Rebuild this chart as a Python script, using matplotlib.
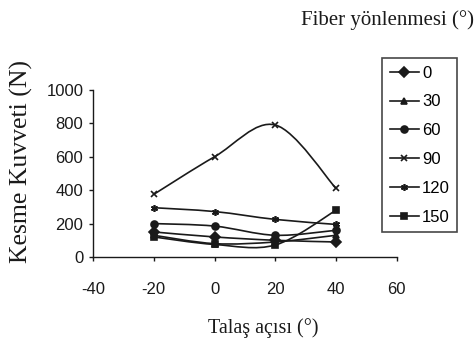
import numpy as np
import matplotlib
matplotlib.use('Agg')
import matplotlib.pyplot as plt
from matplotlib.path import Path
from matplotlib.patches import PathPatch

plt.rcParams['axes.unicode_minus'] = False

# cutting angle (x) and cutting force per fibre orientation
angles = [-20, 0, 20, 40]
f_0 = [150, 120, 100, 90]
f_30 = [130, 80, 90, 130]
f_60 = [200, 185, 130, 160]
f_90 = [375, 600, 790, 410]
f_120 = [295, 272, 225, 195]
f_150 = [120, 75, 72, 280]

series = [('0', f_0, 'D'), ('30', f_30, '^'), ('60', f_60, 'o'),
          ('90', f_90, 'x'), ('120', f_120, (6, 2, 0)), ('150', f_150, 's')]

ink = '#1a1a1a'
sans = 'Liberation Sans'
serif = 'Liberation Serif'


def smooth_path(x, y, k=1 / 6):
    """Excel-style smoothed line as cubic bezier through the points"""
    x = np.asarray(x, float)
    y = np.asarray(y, float)
    px = np.concatenate([[x[0]], x, [x[-1]]])
    py = np.concatenate([[y[0]], y, [y[-1]]])
    verts = [(x[0], y[0])]
    codes = [Path.MOVETO]
    for i in range(1, len(x)):
        c1 = (px[i] + (px[i + 1] - px[i - 1]) * k, py[i] + (py[i + 1] - py[i - 1]) * k)
        c2 = (px[i + 1] - (px[i + 2] - px[i]) * k, py[i + 1] - (py[i + 2] - py[i]) * k)
        verts += [c1, c2, (x[i], y[i])]
        codes += [Path.CURVE4] * 3
    return Path(verts, codes)


fig = plt.figure(figsize=(4.77, 3.54), dpi=100)
ax = fig.add_axes([0.195, 0.274, 0.637, 0.472])

for name, vals, mk in series:
    ax.add_patch(PathPatch(smooth_path(angles, vals), fill=False, edgecolor=ink, lw=1.2))
    ax.plot(angles, vals, linestyle='none', marker=mk, color=ink, markersize=5,
            markeredgewidth=1.2)
    # legend proxy
    ax.plot([], [], color=ink, lw=1.2, marker=mk, markersize=5, markeredgewidth=1.2,
            label=name)

ax.set_xlim(-40, 60)
ax.set_ylim(0, 1000)
ax.set_xticks([-40, -20, 0, 20, 40, 60])
ax.set_yticks([0, 200, 400, 600, 800, 1000])
for s in ['top', 'right']:
    ax.spines[s].set_visible(False)
for s in ['left', 'bottom']:
    ax.spines[s].set_color(ink)
    ax.spines[s].set_linewidth(1.0)
ax.tick_params(direction='out', length=3, width=1, colors=ink, labelsize=12)
ax.tick_params(axis='x', pad=15)
ax.tick_params(axis='y', pad=4)
for lbl in ax.get_xticklabels() + ax.get_yticklabels():
    lbl.set_family(sans)

ax.set_xlabel('Talaş açısı (°)', family=serif, fontsize=14.5, color=ink, va='center')
ax.xaxis.set_label_coords(0.56, -0.425)
ax.set_ylabel('Kesme Kuvveti (N)', family=serif, fontsize=18.5, color=ink, va='center')
ax.yaxis.set_label_coords(-0.234, 0.569)

leg = fig.legend(loc='upper left', bbox_to_anchor=(0.801, 0.836), frameon=True,
                 fancybox=False, edgecolor=ink, prop={'family': sans, 'size': 12},
                 handlelength=1.75, labelspacing=0.83, handletextpad=0.2,
                 borderpad=0.45, borderaxespad=0)
leg.get_frame().set_linewidth(1.2)

fig.text(0.994, 0.944, 'Fiber yönlenmesi (°)', family=serif, fontsize=15,
         color=ink, ha='right', va='center')

fig.savefig('out.png', dpi=100)
